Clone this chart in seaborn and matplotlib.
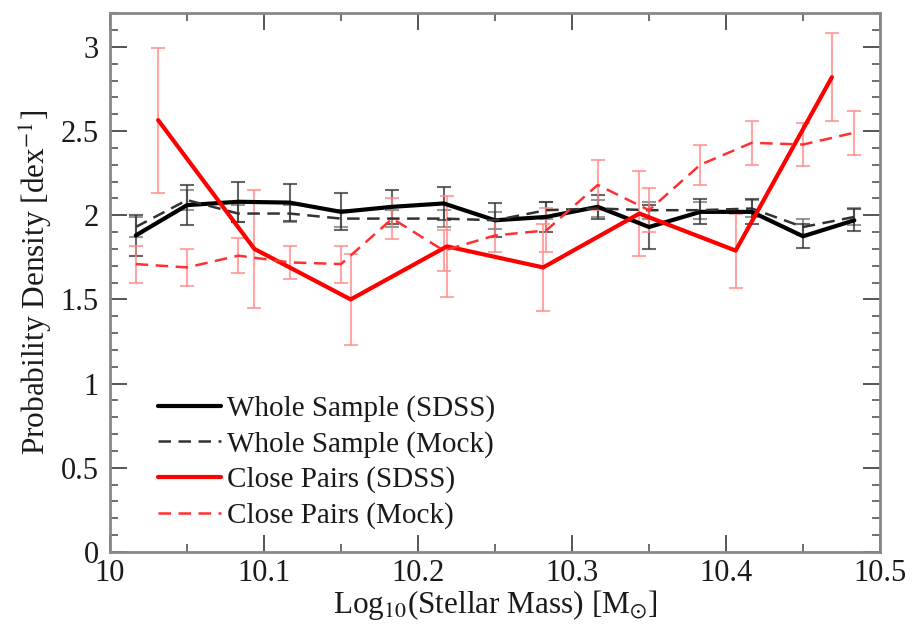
import numpy as np
import pandas as pd
import matplotlib
matplotlib.use("Agg")
import matplotlib.pyplot as plt
import seaborn as sns
from matplotlib.ticker import MultipleLocator

# ---- data ----
x_whole = [10.0167, 10.05, 10.0833, 10.1167, 10.15, 10.1833, 10.2167, 10.25,
           10.2833, 10.3167, 10.35, 10.3833, 10.4167, 10.45, 10.4833]
whole_sdss = [1.88, 2.06, 2.08, 2.075, 2.02, 2.05, 2.07, 1.97,
              1.99, 2.05, 1.93, 2.02, 2.02, 1.875, 1.97]
whole_sdss_err = [0.12, 0.12, 0.12, 0.11, 0.11, 0.10, 0.10, 0.10,
                  0.09, 0.07, 0.13, 0.075, 0.075, 0.07, 0.065]
whole_mock = [1.93, 2.09, 2.01, 2.01, 1.98, 1.98, 1.98, 1.97,
              2.03, 2.04, 2.03, 2.03, 2.04, 1.93, 1.99]
whole_mock_err = [0.06, 0.06, 0.05, 0.05, 0.05, 0.05, 0.05, 0.05,
                  0.05, 0.05, 0.05, 0.05, 0.05, 0.05, 0.05]
x_pairs = [10.03125, 10.09375, 10.15625, 10.21875, 10.28125, 10.34375, 10.40625, 10.46875]
pairs_sdss = [2.565, 1.80, 1.50, 1.815, 1.69, 2.01, 1.79, 2.82]
pairs_sdss_err = [0.43, 0.35, 0.27, 0.30, 0.26, 0.25, 0.22, 0.26]
pairs_mock = [1.71, 1.69, 1.76, 1.72, 1.71, 1.98, 1.79, 1.88,
              1.91, 2.18, 2.03, 2.30, 2.43, 2.42, 2.49]
pairs_mock_err = [0.11, 0.11, 0.105, 0.10, 0.11, 0.12, 0.12, 0.10,
                  0.13, 0.15, 0.13, 0.12, 0.13, 0.13, 0.13]

labels = ["Whole Sample (SDSS)", "Whole Sample (Mock)",
          "Close Pairs (SDSS)", "Close Pairs (Mock)"]
xtick_labels = ["10", "10.1", "10.2", "10.3", "10.4", "10.5"]
ytick_labels = ["0", "0.5", "1", "1.5", "2", "2.5", "3"]

sns.set_style("ticks")
plt.rcParams["font.family"] = ["Liberation Serif", "DejaVu Serif"]
plt.rcParams["mathtext.fontset"] = "stix"

fig = plt.figure(figsize=(9.13, 6.27), dpi=100)
ax = fig.add_axes([0.1205, 0.1196, 0.9639 - 0.1205, 0.979 - 0.1196])

# error bars
eb = dict(fmt="none", elinewidth=1.5, capsize=5, capthick=1.5)
ax.errorbar(x_whole, whole_mock, yerr=whole_mock_err, ecolor="#555555", alpha=0.6, **eb)
ax.errorbar(x_whole, whole_sdss, yerr=whole_sdss_err, ecolor="#333333", alpha=0.75, **eb)
ax.errorbar(x_whole, pairs_mock, yerr=pairs_mock_err, ecolor="#ff8a8a", alpha=0.75, **eb)
ax.errorbar(x_pairs, pairs_sdss, yerr=pairs_sdss_err, ecolor="#ff8a8a", alpha=0.75, **eb)

df_ws = pd.DataFrame({"x": x_whole, "y": whole_sdss})
df_wm = pd.DataFrame({"x": x_whole, "y": whole_mock})
df_ps = pd.DataFrame({"x": x_pairs, "y": pairs_sdss})
df_pm = pd.DataFrame({"x": x_whole, "y": pairs_mock})

sns.lineplot(data=df_ws, x="x", y="y", ax=ax, color="black", lw=3, label=labels[0])
sns.lineplot(data=df_wm, x="x", y="y", ax=ax, color="#333333", lw=1.8,
             linestyle=(0, (5, 3)), label=labels[1])
sns.lineplot(data=df_ps, x="x", y="y", ax=ax, color="#ff0000", lw=3, label=labels[2])
sns.lineplot(data=df_pm, x="x", y="y", ax=ax, color="#ff3030", lw=1.8,
             linestyle=(0, (5, 3)), label=labels[3])

ax.set_xlim(10, 10.5)
ax.set_ylim(0, 3.2)
ax.xaxis.set_minor_locator(MultipleLocator(0.05))
ax.yaxis.set_minor_locator(MultipleLocator(0.1))
ax.set_xticks([10, 10.1, 10.2, 10.3, 10.4, 10.5])
ax.set_xticklabels(xtick_labels)
ax.set_yticks([0, 0.5, 1, 1.5, 2, 2.5, 3])
ax.set_yticklabels(ytick_labels)
ax.tick_params(which="both", direction="in", top=True, right=True,
               colors="#555555", labelcolor="#1a1a1a", labelsize=22)
ax.tick_params(axis="x", pad=5)
ax.tick_params(axis="y", pad=8)
ax.tick_params(which="major", length=12, width=1.4)
ax.tick_params(which="minor", length=6, width=1.2)
for s in ax.spines.values():
    s.set_color("#888888")
    s.set_linewidth(2)

ax.set_xlabel(r"Log$_{10}$(Stellar Mass) [M$_{\odot}$]", fontsize=22.5, color="#1a1a1a", labelpad=0)
ax.set_ylabel(r"Probability Density [dex$^{-1}$]", fontsize=22.5, color="#1a1a1a", labelpad=4)

leg = ax.legend(loc="lower left", bbox_to_anchor=(0.04, 0.01), frameon=False,
                fontsize=21, handlelength=2.15, handletextpad=0.2, labelspacing=0.3,
                borderaxespad=0.2)
for t in leg.get_texts():
    t.set_color("#1a1a1a")

fig.savefig("out.png", dpi=100)
